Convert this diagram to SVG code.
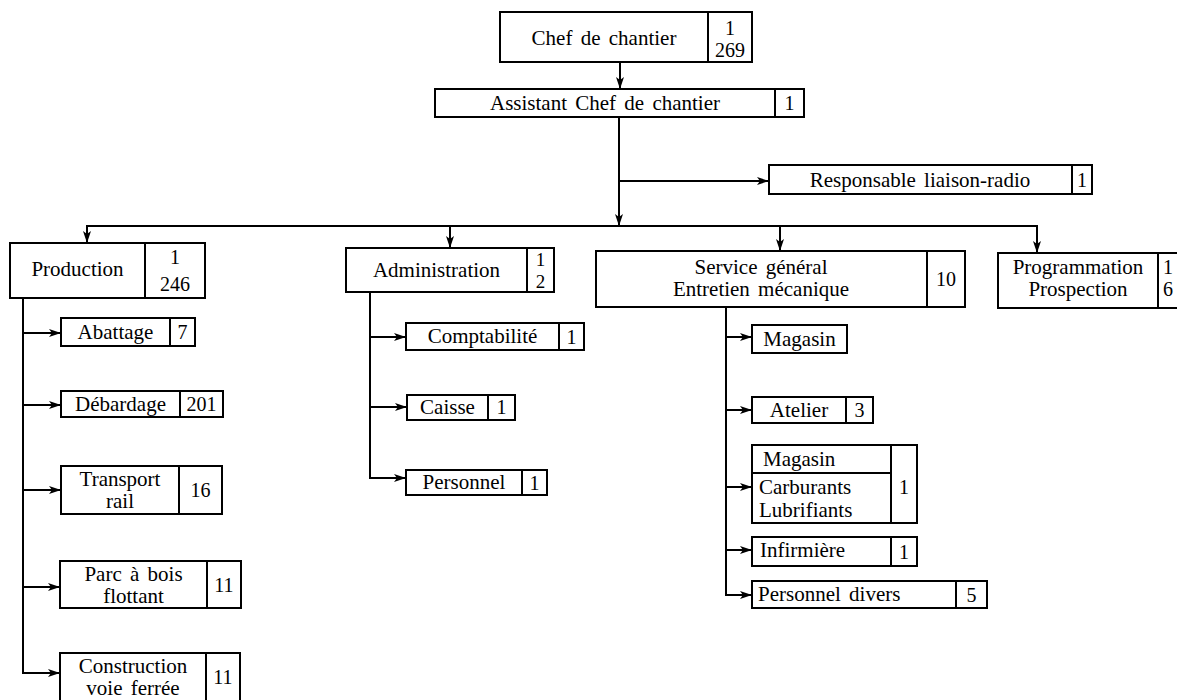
<svg xmlns="http://www.w3.org/2000/svg" width="1177" height="700" viewBox="0 0 1177 700">
<style>
.b{fill:none;stroke:#000;stroke-width:2}
.c{fill:none;stroke:#000;stroke-width:2}
.t{font-family:"Liberation Serif","Times New Roman",serif;font-size:21px;fill:#000;text-anchor:middle;word-spacing:3px}
.l{text-anchor:start}
.n{font-size:20px}
.s{font-size:19px}
</style>
<defs>
<marker id="ah" markerUnits="userSpaceOnUse" markerWidth="12" markerHeight="8" refX="12" refY="4" orient="auto">
<path d="M0,0 L12,4 L0,8 L3,4 z" fill="#000"/>
</marker>
</defs>
<rect width="1177" height="700" fill="#fff"/>
<g id="connectors">
<line class="c" x1="620" y1="62" x2="620" y2="89" marker-end="url(#ah)"/>
<line class="c" x1="619" y1="117" x2="619" y2="226" marker-end="url(#ah)"/>
<line class="c" x1="619" y1="181" x2="769" y2="181" marker-end="url(#ah)"/>
<line class="c" x1="86" y1="226" x2="1038" y2="226"/>
<line class="c" x1="87" y1="226" x2="87" y2="243" marker-end="url(#ah)"/>
<line class="c" x1="450" y1="226" x2="450" y2="248" marker-end="url(#ah)"/>
<line class="c" x1="780" y1="226" x2="780" y2="251" marker-end="url(#ah)"/>
<line class="c" x1="1037" y1="226" x2="1037" y2="253" marker-end="url(#ah)"/>
<line class="c" x1="23" y1="298" x2="23" y2="674"/>
<line class="c" x1="22" y1="333" x2="61" y2="333" marker-end="url(#ah)"/>
<line class="c" x1="22" y1="405" x2="61" y2="405" marker-end="url(#ah)"/>
<line class="c" x1="22" y1="490" x2="61" y2="490" marker-end="url(#ah)"/>
<line class="c" x1="22" y1="587" x2="60" y2="587" marker-end="url(#ah)"/>
<line class="c" x1="22" y1="673" x2="60" y2="673" marker-end="url(#ah)"/>
<line class="c" x1="370" y1="292" x2="370" y2="479"/>
<line class="c" x1="369" y1="337" x2="406" y2="337" marker-end="url(#ah)"/>
<line class="c" x1="369" y1="407" x2="407" y2="407" marker-end="url(#ah)"/>
<line class="c" x1="369" y1="478" x2="406" y2="478" marker-end="url(#ah)"/>
<line class="c" x1="726" y1="307" x2="726" y2="596"/>
<line class="c" x1="725" y1="337" x2="752" y2="337" marker-end="url(#ah)"/>
<line class="c" x1="725" y1="410" x2="752" y2="410" marker-end="url(#ah)"/>
<line class="c" x1="725" y1="487" x2="752" y2="487" marker-end="url(#ah)"/>
<line class="c" x1="725" y1="550" x2="752" y2="550" marker-end="url(#ah)"/>
<line class="c" x1="725" y1="595" x2="752" y2="595" marker-end="url(#ah)"/>
</g>
<g id="chef">
<rect class="b" x="500" y="12" width="252" height="50"/>
<line class="b" x1="708" y1="12" x2="708" y2="62"/>
<text class="t" x="604" y="45">Chef de chantier</text>
<text class="t n" x="730" y="35">1</text>
<text class="t n" x="730" y="57">269</text>
</g>
<g id="assistant">
<rect class="b" x="435" y="89" width="369" height="28"/>
<line class="b" x1="775" y1="89" x2="775" y2="117"/>
<text class="t" x="605" y="110">Assistant Chef de chantier</text>
<text class="t n" x="789.5" y="110">1</text>
</g>
<g id="responsable">
<rect class="b" x="769" y="165" width="323" height="29"/>
<line class="b" x1="1072" y1="165" x2="1072" y2="194"/>
<text class="t" x="920" y="187">Responsable liaison-radio</text>
<text class="t n" x="1082" y="187">1</text>
</g>
<g id="production">
<rect class="b" x="10" y="243" width="195" height="55"/>
<line class="b" x1="145" y1="243" x2="145" y2="298"/>
<text class="t" x="77.5" y="276">Production</text>
<text class="t n" x="175" y="264">1</text>
<text class="t n" x="175" y="291">246</text>
</g>
<g id="administration">
<rect class="b" x="346" y="248" width="208" height="44"/>
<line class="b" x1="527" y1="248" x2="527" y2="292"/>
<text class="t" x="436.5" y="277">Administration</text>
<text class="t s" x="540.5" y="266">1</text>
<text class="t s" x="540.5" y="288">2</text>
</g>
<g id="service">
<rect class="b" x="596" y="251" width="369" height="56"/>
<line class="b" x1="927" y1="251" x2="927" y2="307"/>
<text class="t" x="761" y="274">Service général</text>
<text class="t" x="761" y="296">Entretien mécanique</text>
<text class="t n" x="946" y="286">10</text>
</g>
<g id="programmation">
<rect class="b" x="998" y="253" width="190" height="55"/>
<line class="b" x1="1158" y1="253" x2="1158" y2="308"/>
<text class="t" x="1078" y="274">Programmation</text>
<text class="t" x="1078" y="296">Prospection</text>
<text class="t n l" x="1163" y="274">1</text>
<text class="t n l" x="1163" y="296">6</text>
</g>
<g id="abattage">
<rect class="b" x="61" y="318" width="134" height="28"/>
<line class="b" x1="170" y1="318" x2="170" y2="346"/>
<text class="t" x="115.5" y="339">Abattage</text>
<text class="t n" x="182.5" y="339">7</text>
</g>
<g id="debardage">
<rect class="b" x="61" y="391" width="162" height="26"/>
<line class="b" x1="180" y1="391" x2="180" y2="417"/>
<text class="t" x="120.5" y="411">Débardage</text>
<text class="t n" x="201.5" y="411">201</text>
</g>
<g id="transport">
<rect class="b" x="61" y="466" width="161" height="48"/>
<line class="b" x1="179" y1="466" x2="179" y2="514"/>
<text class="t" x="120" y="486">Transport</text>
<text class="t" x="120" y="508">rail</text>
<text class="t n" x="200.5" y="497">16</text>
</g>
<g id="parc">
<rect class="b" x="60" y="561" width="181" height="47"/>
<line class="b" x1="207" y1="561" x2="207" y2="608"/>
<text class="t" x="133.5" y="581">Parc à bois</text>
<text class="t" x="133.5" y="603">flottant</text>
<text class="t n" x="224" y="592">11</text>
</g>
<g id="construction">
<rect class="b" x="60" y="653" width="180" height="52"/>
<line class="b" x1="206" y1="653" x2="206" y2="705"/>
<text class="t" x="133" y="673">Construction</text>
<text class="t" x="133" y="695">voie ferrée</text>
<text class="t n" x="223" y="684">11</text>
</g>
<g id="comptabilite">
<rect class="b" x="406" y="323" width="178" height="27"/>
<line class="b" x1="559" y1="323" x2="559" y2="350"/>
<text class="t" x="482.5" y="343">Comptabilité</text>
<text class="t n" x="571.5" y="344">1</text>
</g>
<g id="caisse">
<rect class="b" x="407" y="395" width="108" height="25"/>
<line class="b" x1="488" y1="395" x2="488" y2="420"/>
<text class="t" x="447.5" y="414">Caisse</text>
<text class="t n" x="501.5" y="414">1</text>
</g>
<g id="personnel">
<rect class="b" x="406" y="470" width="141" height="25"/>
<line class="b" x1="522" y1="470" x2="522" y2="495"/>
<text class="t" x="464" y="489">Personnel</text>
<text class="t n" x="534.5" y="490">1</text>
</g>
<g id="magasin">
<rect class="b" x="752" y="325" width="95" height="28"/>
<text class="t" x="799.5" y="346">Magasin</text>
</g>
<g id="atelier">
<rect class="b" x="752" y="397" width="121" height="26"/>
<line class="b" x1="846" y1="397" x2="846" y2="423"/>
<text class="t" x="799" y="417">Atelier</text>
<text class="t n" x="859.5" y="417">3</text>
</g>
<g id="magasin-carburants">
<rect class="b" x="752" y="445" width="165" height="78"/>
<line class="b" x1="891" y1="445" x2="891" y2="523"/>
<line class="b" x1="752" y1="473" x2="891" y2="473"/>
<text class="t l" x="763" y="466">Magasin</text>
<text class="t l" x="759" y="494">Carburants</text>
<text class="t l" x="759" y="517">Lubrifiants</text>
<text class="t n" x="904" y="494">1</text>
</g>
<g id="infirmiere">
<rect class="b" x="752" y="537" width="165" height="29"/>
<line class="b" x1="891" y1="537" x2="891" y2="566"/>
<text class="t l" x="760" y="557">Infirmière</text>
<text class="t n" x="904" y="559">1</text>
</g>
<g id="personnel-divers">
<rect class="b" x="752" y="581" width="235" height="27"/>
<line class="b" x1="956" y1="581" x2="956" y2="608"/>
<text class="t l" x="758" y="601">Personnel divers</text>
<text class="t n" x="971.5" y="602">5</text>
</g>
</svg>
